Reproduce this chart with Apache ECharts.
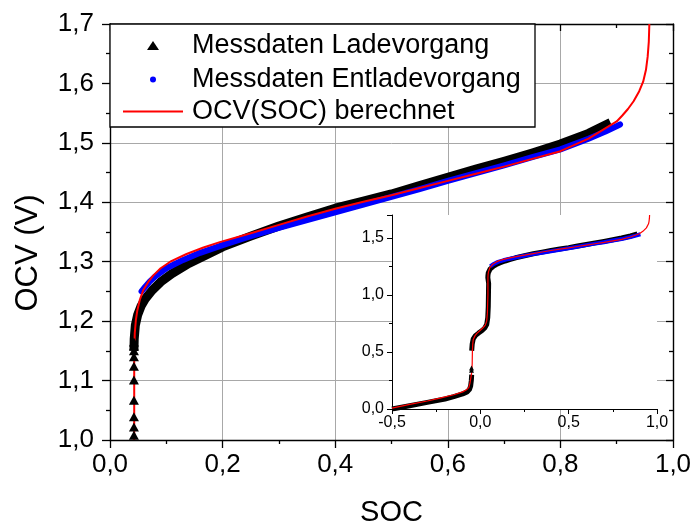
<!DOCTYPE html>
<html><head><meta charset="utf-8">
<script src="https://cdn.jsdelivr.net/npm/echarts@6/dist/echarts.min.js"></script>
<style>html,body{margin:0;padding:0;background:#fff}#c{width:695px;height:525px}</style>
</head><body><div id="c"></div>
<script>
// ---------- DATA ----------
// Main chart: SOC (x) vs OCV in V (y)
const mainRed = [[0.043,1.00],[0.043,1.10],[0.043,1.15],[0.044,1.18],[0.046,1.202],[0.0485,1.218],[0.053,1.236],[0.059,1.252],[0.068,1.266],[0.077,1.277],[0.09,1.289],[0.107,1.300],[0.136,1.313],[0.166,1.324],[0.195,1.333],[0.25,1.348],[0.3,1.362],[0.35,1.376],[0.4,1.389],[0.45,1.401],[0.5,1.412],[0.55,1.424],[0.6,1.436],[0.65,1.448],[0.7,1.460],[0.75,1.473],[0.8,1.486],[0.85,1.507],[0.9,1.536],[0.91,1.546],[0.92,1.557],[0.93,1.570],[0.94,1.587],[0.947,1.603],[0.952,1.623],[0.955,1.645],[0.957,1.670],[0.958,1.70]];
const mainEntlade = [[0.056,1.25],[0.06,1.255],[0.07,1.266],[0.08,1.275],[0.1,1.289],[0.13,1.303],[0.16,1.315],[0.2,1.328],[0.25,1.343],[0.3,1.357],[0.35,1.370],[0.4,1.383],[0.45,1.396],[0.5,1.409],[0.55,1.422],[0.6,1.436],[0.65,1.449],[0.7,1.462],[0.75,1.476],[0.8,1.489],[0.85,1.507],[0.88,1.519],[0.906,1.531]];
const mainLadeBand = [[0.0425,1.15],[0.043,1.17],[0.045,1.193],[0.049,1.210],[0.055,1.225],[0.063,1.238],[0.075,1.252],[0.09,1.266],[0.11,1.280],[0.14,1.297],[0.17,1.311],[0.2,1.325],[0.25,1.343],[0.3,1.360],[0.35,1.375],[0.4,1.390],[0.45,1.402],[0.5,1.414],[0.55,1.428],[0.6,1.442],[0.65,1.456],[0.7,1.469],[0.75,1.483],[0.8,1.498],[0.85,1.516],[0.889,1.534]];
const ladeTriangleSOC = 0.0425;
const ladeTriangleOCV = [1.008,1.022,1.039,1.067,1.101,1.124,1.140,1.150,1.158,1.165];
// Inset: lower part of the curves (SOC from -0.5)
const insetRedLow = [[-0.5,0.008],[-0.4,0.04],[-0.3,0.07],[-0.229,0.096],[-0.15,0.125],[-0.1,0.15],[-0.078,0.168],[-0.065,0.19],[-0.059,0.225],[-0.053,0.28],[-0.048,0.33],[-0.046,0.40],[-0.045,0.50],[-0.043,0.57],[-0.04,0.61],[-0.03,0.643],[-0.02,0.663],[0.0,0.69],[0.015,0.712],[0.028,0.735],[0.036,0.77],[0.04,0.84],[0.042,0.95]];
const insetLadeA = [[-0.5,0.0],[-0.4,0.028],[-0.3,0.058],[-0.2,0.088],[-0.15,0.108],[-0.1,0.132],[-0.075,0.15],[-0.062,0.17],[-0.055,0.2],[-0.051,0.25],[-0.049,0.3]];
const insetLadeB = [[-0.049,0.51],[-0.046,0.57],[-0.04,0.615],[-0.028,0.643],[-0.01,0.665],[0.01,0.688],[0.025,0.71],[0.036,0.74],[0.042,0.8],[0.045,0.9],[0.046,1.0],[0.047,1.1]];
const insetLadeMarks = [[-0.05,0.34],[-0.05,0.36]];
// axis ranges / ticks
const mainX = {min:0, max:1.0, interval:0.2};
const mainY = {min:1.0, max:1.7, interval:0.1};
const insetX = {min:-0.5, max:1.0, interval:0.5};
const insetY = {min:0, max:1.7, interval:0.5};
const names = ['Messdaten Ladevorgang','Messdaten Entladevorgang','OCV(SOC) berechnet'];
const titles = {x:'SOC', y:'OCV (V)'};

// ---------- CHART ----------
const FONT = '"Liberation Sans", Arial, Helvetica, sans-serif';
const fmt = v => (Math.round(v*10)/10).toFixed(1).replace('.', ',');
const chart = echarts.init(document.getElementById('c'), null, {renderer:'canvas'});
const black = '#000', blue = '#0000ff', red = '#ff0000', gridGray = '#a8a8a8';

function outerAxis(extra){
  return Object.assign({
    type:'value',
    axisLine:{show:true, onZero:false, lineStyle:{color:black, width:1.4}},
    axisTick:{show:true, inside:false, length:8, lineStyle:{color:black, width:1.3}},
    minorTick:{show:true, splitNumber:2, length:4, lineStyle:{color:black, width:1.3}},
    splitLine:{show:true, lineStyle:{color:gridGray, width:1}},
    minorSplitLine:{show:false}
  }, extra);
}
function mirrorAxis(extra){
  return Object.assign({
    type:'value',
    axisLine:{show:true, onZero:false, lineStyle:{color:black, width:1.4}},
    axisTick:{show:true, inside:true, length:7, lineStyle:{color:black, width:1.3}},
    minorTick:{show:true, splitNumber:2, length:4, lineStyle:{color:black, width:1.3}},
    axisLabel:{show:false},
    splitLine:{show:false}
  }, extra);
}
function insetAxis(extra){
  return Object.assign({
    type:'value',
    axisLine:{show:true, onZero:false, lineStyle:{color:black, width:1}},
    axisTick:{show:true, inside:false, length:5, lineStyle:{color:black, width:1}},
    minorTick:{show:true, splitNumber:2, length:3, lineStyle:{color:black, width:1}},
    splitLine:{show:false}
  }, extra);
}

const legendCommon = {
  orient:'horizontal', padding:0, selectedMode:false, z:6
};
const legendText = pad => ({color:black, fontSize:27, fontFamily:FONT, padding:[0,0,0,pad]});

const option = {
  backgroundColor:'#fff',
  animation:false,
  grid:[
    {left:110, top:24, width:563, height:416, outerBoundsMode:'none', containLabel:false},
    {left:392, top:215, width:265, height:194, show:true, backgroundColor:'#fff', borderWidth:0, outerBoundsMode:'none', containLabel:false, z:3}
  ],
  xAxis:[
    outerAxis(Object.assign({gridIndex:0, position:'bottom', name:titles.x, nameLocation:'middle', nameGap:58,
      nameTextStyle:{color:black, fontSize:29, fontFamily:FONT},
      axisLabel:{show:true, color:black, fontSize:26, fontFamily:FONT, formatter:fmt, margin:12}}, mainX)),
    mirrorAxis(Object.assign({gridIndex:0, position:'top'}, mainX)),
    insetAxis(Object.assign({gridIndex:1, position:'bottom', z:4,
      axisLabel:{show:true, color:black, fontSize:16, fontFamily:FONT, formatter:fmt, margin:6}}, insetX))
  ],
  yAxis:[
    outerAxis(Object.assign({gridIndex:0, position:'left',
      axisLabel:{show:true, color:black, fontSize:26, fontFamily:FONT, formatter:fmt, margin:16}}, mainY)),
    mirrorAxis(Object.assign({gridIndex:0, position:'right'}, mainY)),
    insetAxis(Object.assign({gridIndex:1, position:'left', z:4,
      axisLabel:{show:true, color:black, fontSize:16, fontFamily:FONT, formatter:fmt, margin:8, showMaxLabel:false}}, insetY))
  ],
  graphic:[
    {type:'rect', z:5, shape:{x:110, y:24, width:425, height:103}, style:{fill:'#fff', stroke:black, lineWidth:1.3}},
    {type:'text', z:5, x:28, y:253, rotation:Math.PI/2,
      style:{text:titles.y, fill:black, font:'31px ' + FONT, align:'center', verticalAlign:'middle'}}
  ],
  legend:[
    Object.assign({}, legendCommon, {left:147, top:32, itemWidth:12, itemHeight:9, textStyle:legendText(28),
      data:[{name:names[0], icon:'triangle', itemStyle:{color:black, borderWidth:0, opacity:1}}]}),
    Object.assign({}, legendCommon, {left:150, top:66, itemWidth:6, itemHeight:6, textStyle:legendText(31),
      data:[{name:names[1], icon:'circle', itemStyle:{color:blue, borderWidth:0, opacity:1}}]}),
    Object.assign({}, legendCommon, {left:123, top:98, itemWidth:60, itemHeight:2, textStyle:legendText(4),
      data:[{name:names[2], icon:'rect', itemStyle:{color:red, borderWidth:0, opacity:1}}]})
  ],
  series:[
    {type:'scatter', name:names[0], xAxisIndex:0, yAxisIndex:0, symbol:'triangle', symbolSize:[10,9],
      itemStyle:{color:black, opacity:1}, data:ladeTriangleOCV.map(v => [ladeTriangleSOC, v]), z:2},
    {type:'line', name:names[0], xAxisIndex:0, yAxisIndex:0, symbol:'none', color:black,
      lineStyle:{color:black, width:9, join:'round'}, data:mainLadeBand, z:2},
    {type:'line', name:names[1], xAxisIndex:0, yAxisIndex:0, symbol:'none', color:blue,
      lineStyle:{color:blue, width:6, join:'round', cap:'round'}, data:mainEntlade, z:2},
    {type:'line', name:names[2], xAxisIndex:0, yAxisIndex:0, symbol:'none', color:red,
      lineStyle:{color:red, width:2, join:'round'}, data:mainRed, z:2},
    // inset
    {type:'line', name:'inset_lade_a', xAxisIndex:2, yAxisIndex:2, symbol:'none', color:black,
      lineStyle:{color:black, width:5, join:'round'}, data:insetLadeA, z:4},
    {type:'line', name:'inset_lade_b', xAxisIndex:2, yAxisIndex:2, symbol:'none', color:black,
      lineStyle:{color:black, width:5, join:'round'}, data:insetLadeB.concat(mainLadeBand), z:4},
    {type:'scatter', name:'inset_lade_marks', xAxisIndex:2, yAxisIndex:2, symbol:'triangle', symbolSize:5,
      itemStyle:{color:black, opacity:1}, data:insetLadeMarks, z:4},
    {type:'line', name:'inset_entlade', xAxisIndex:2, yAxisIndex:2, symbol:'none', color:blue,
      lineStyle:{color:blue, width:4, join:'round'}, data:mainEntlade, z:4},
    {type:'line', name:'inset_ocv', xAxisIndex:2, yAxisIndex:2, symbol:'none', color:red,
      lineStyle:{color:red, width:1.2}, data:insetRedLow.concat(mainRed), z:4}
  ]
};
chart.setOption(option);
</script>
</body></html>
